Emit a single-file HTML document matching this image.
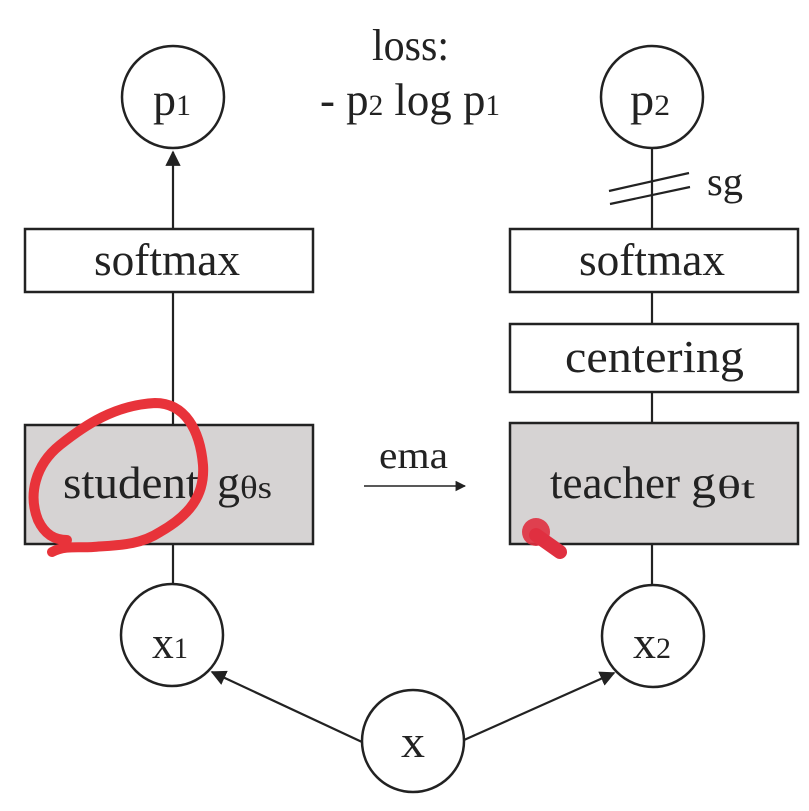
<!DOCTYPE html>
<html><head><meta charset="utf-8"><style>
html,body{margin:0;padding:0;background:#fff;}
svg{display:block;}
text{font-family:"Liberation Serif",serif;fill:#222;}
</style></head><body>
<svg width="809" height="811" viewBox="0 0 809 811">
<defs>
<marker id="ah" viewBox="0 0 10 10" refX="9" refY="5" markerWidth="7" markerHeight="7" orient="auto"><path d="M0,0 L10,5 L0,10 z" fill="#222"/></marker>
</defs>
<g stroke="#222" stroke-width="2.2" fill="none">
<line x1="173" y1="583" x2="173" y2="544"/>
<line x1="173" y1="425" x2="173" y2="292"/>
<line x1="173" y1="229" x2="173" y2="152" marker-end="url(#ah)"/>
<line x1="652" y1="586" x2="652" y2="544"/>
<line x1="652" y1="423" x2="652" y2="392"/>
<line x1="652" y1="324" x2="652" y2="292"/>
<line x1="652" y1="229" x2="652" y2="149"/>
<line x1="609" y1="191" x2="689" y2="173"/>
<line x1="610" y1="204" x2="690" y2="187"/>
<line x1="364" y1="486" x2="465" y2="486" stroke-width="1.5" marker-end="url(#ah)"/>
<line x1="362" y1="742" x2="212" y2="672" marker-end="url(#ah)"/>
<line x1="464" y1="740" x2="614" y2="673" marker-end="url(#ah)"/>
</g>
<g stroke="#222" stroke-width="2.5">
<circle cx="173" cy="97" r="51" fill="#fff"/>
<circle cx="652" cy="97" r="51" fill="#fff"/>
<rect x="25" y="229" width="288" height="63" fill="#fff"/>
<rect x="510" y="229" width="288" height="63" fill="#fff"/>
<rect x="510" y="324" width="288" height="68" fill="#fff"/>
<rect x="25" y="425" width="288" height="119" fill="#d6d3d3"/>
<rect x="510" y="423" width="288" height="121" fill="#d6d3d3"/>
<circle cx="172" cy="635" r="51" fill="#fff"/>
<circle cx="653" cy="636" r="51" fill="#fff"/>
<circle cx="413" cy="741" r="51" fill="#fff"/>
</g>
<text x="372" y="60" font-size="44" textLength="77" lengthAdjust="spacingAndGlyphs">loss:</text>
<text x="320" y="115" font-size="46" textLength="180" lengthAdjust="spacingAndGlyphs">- p<tspan font-size="30">2</tspan> log p<tspan font-size="30">1</tspan></text>
<text x="153" y="115" font-size="46" textLength="38" lengthAdjust="spacingAndGlyphs">p<tspan font-size="30">1</tspan></text>
<text x="630" y="115" font-size="46" textLength="40" lengthAdjust="spacingAndGlyphs">p<tspan font-size="30">2</tspan></text>
<text x="707" y="195" font-size="40" textLength="36" lengthAdjust="spacingAndGlyphs">sg</text>
<text x="94" y="275" font-size="46" textLength="146" lengthAdjust="spacingAndGlyphs">softmax</text>
<text x="579" y="275" font-size="46" textLength="146" lengthAdjust="spacingAndGlyphs">softmax</text>
<text x="565" y="372" font-size="46" textLength="179" lengthAdjust="spacingAndGlyphs">centering</text>
<text x="63" y="498" font-size="46" textLength="136" lengthAdjust="spacingAndGlyphs">student</text>
<text x="217" y="498" font-size="46" textLength="23" lengthAdjust="spacingAndGlyphs">g</text>
<text x="240" y="498" font-size="32" textLength="32" lengthAdjust="spacingAndGlyphs">θs</text>
<text x="550" y="498" font-size="46" textLength="130" lengthAdjust="spacingAndGlyphs">teacher</text>
<text x="691" y="498" font-size="46" textLength="25" lengthAdjust="spacingAndGlyphs">g</text>
<text x="717" y="498" font-size="32" textLength="38" lengthAdjust="spacingAndGlyphs">θt</text>
<text x="379" y="468" font-size="38" textLength="69" lengthAdjust="spacingAndGlyphs">ema</text>
<text x="152" y="658" font-size="46" textLength="36" lengthAdjust="spacingAndGlyphs">x<tspan font-size="30">1</tspan></text>
<text x="633" y="658" font-size="46" textLength="38" lengthAdjust="spacingAndGlyphs">x<tspan font-size="30">2</tspan></text>
<text x="401" y="757" font-size="46" textLength="24" lengthAdjust="spacingAndGlyphs">x</text>
<path d="M52,552 C65,545 80,548 93,547 C120,545 140,545 160,532 C190,515 205,495 203,465 C200,430 185,403 155,403 C115,405 85,425 60,445 C35,465 28,495 38,520 C45,535 55,540 67,540" fill="none" stroke="#e8333a" stroke-width="10" stroke-linecap="round"/>
<path d="M536,535 L560,552" stroke="#e03040" stroke-width="14" stroke-linecap="round"/>
<circle cx="536" cy="532" r="14" fill="#e03040" opacity="0.9"/>
</svg>
</body></html>
